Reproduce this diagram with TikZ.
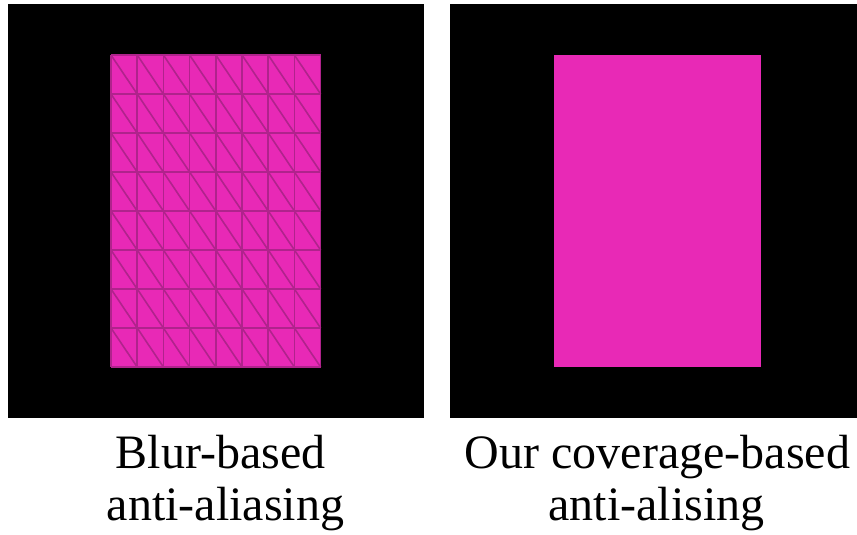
\documentclass[tikz,border=0pt]{standalone}
\usepackage{fontspec}
\setmainfont{Liberation Serif}
\begin{document}
\definecolor{magentafill}{HTML}{E829B6}
\definecolor{meshline}{HTML}{B0238C}
\begin{tikzpicture}[x=1pt,y=-1pt,
  panel/.style={fill=black},
  caption/.style={font=\fontsize{48}{53}\selectfont, anchor=base, inner sep=0pt},
  mesh/.style={draw=meshline, line width=1.6pt}]
\useasboundingbox (0,0) rectangle (857,535);
% black panels
\fill[panel] (8,4) rectangle (424,418);
\fill[panel] (450,4) rectangle (857,418);
% left: triangulated quad
\fill[magentafill] (111,55) rectangle (320.6,367);
\foreach \i in {0,...,7}{
  \foreach \j in {0,...,7}{
    \draw[mesh] ({111+\i*26.2},{55+\j*39}) -- ({111+(\i+1)*26.2},{55+(\j+1)*39});
  }
}
\foreach \i in {0,...,8}{
  \draw[mesh] ({111+\i*26.2},55) -- ({111+\i*26.2},367);
  \draw[mesh] (111,{55+\i*39}) -- (320.6,{55+\i*39});
}
% right: clean quad
\fill[magentafill] (554,55) rectangle (761,367);
% captions
\node[caption] (l1) at (220.8,468) {Blur-based};
\node[caption] (l2) at (225.5,520) {anti-aliasing};
\node[caption] (r1) at (657.5,468) {Our coverage-based};
\node[caption] (r2) at (656.5,520) {anti-alising};
\end{tikzpicture}
\end{document}
